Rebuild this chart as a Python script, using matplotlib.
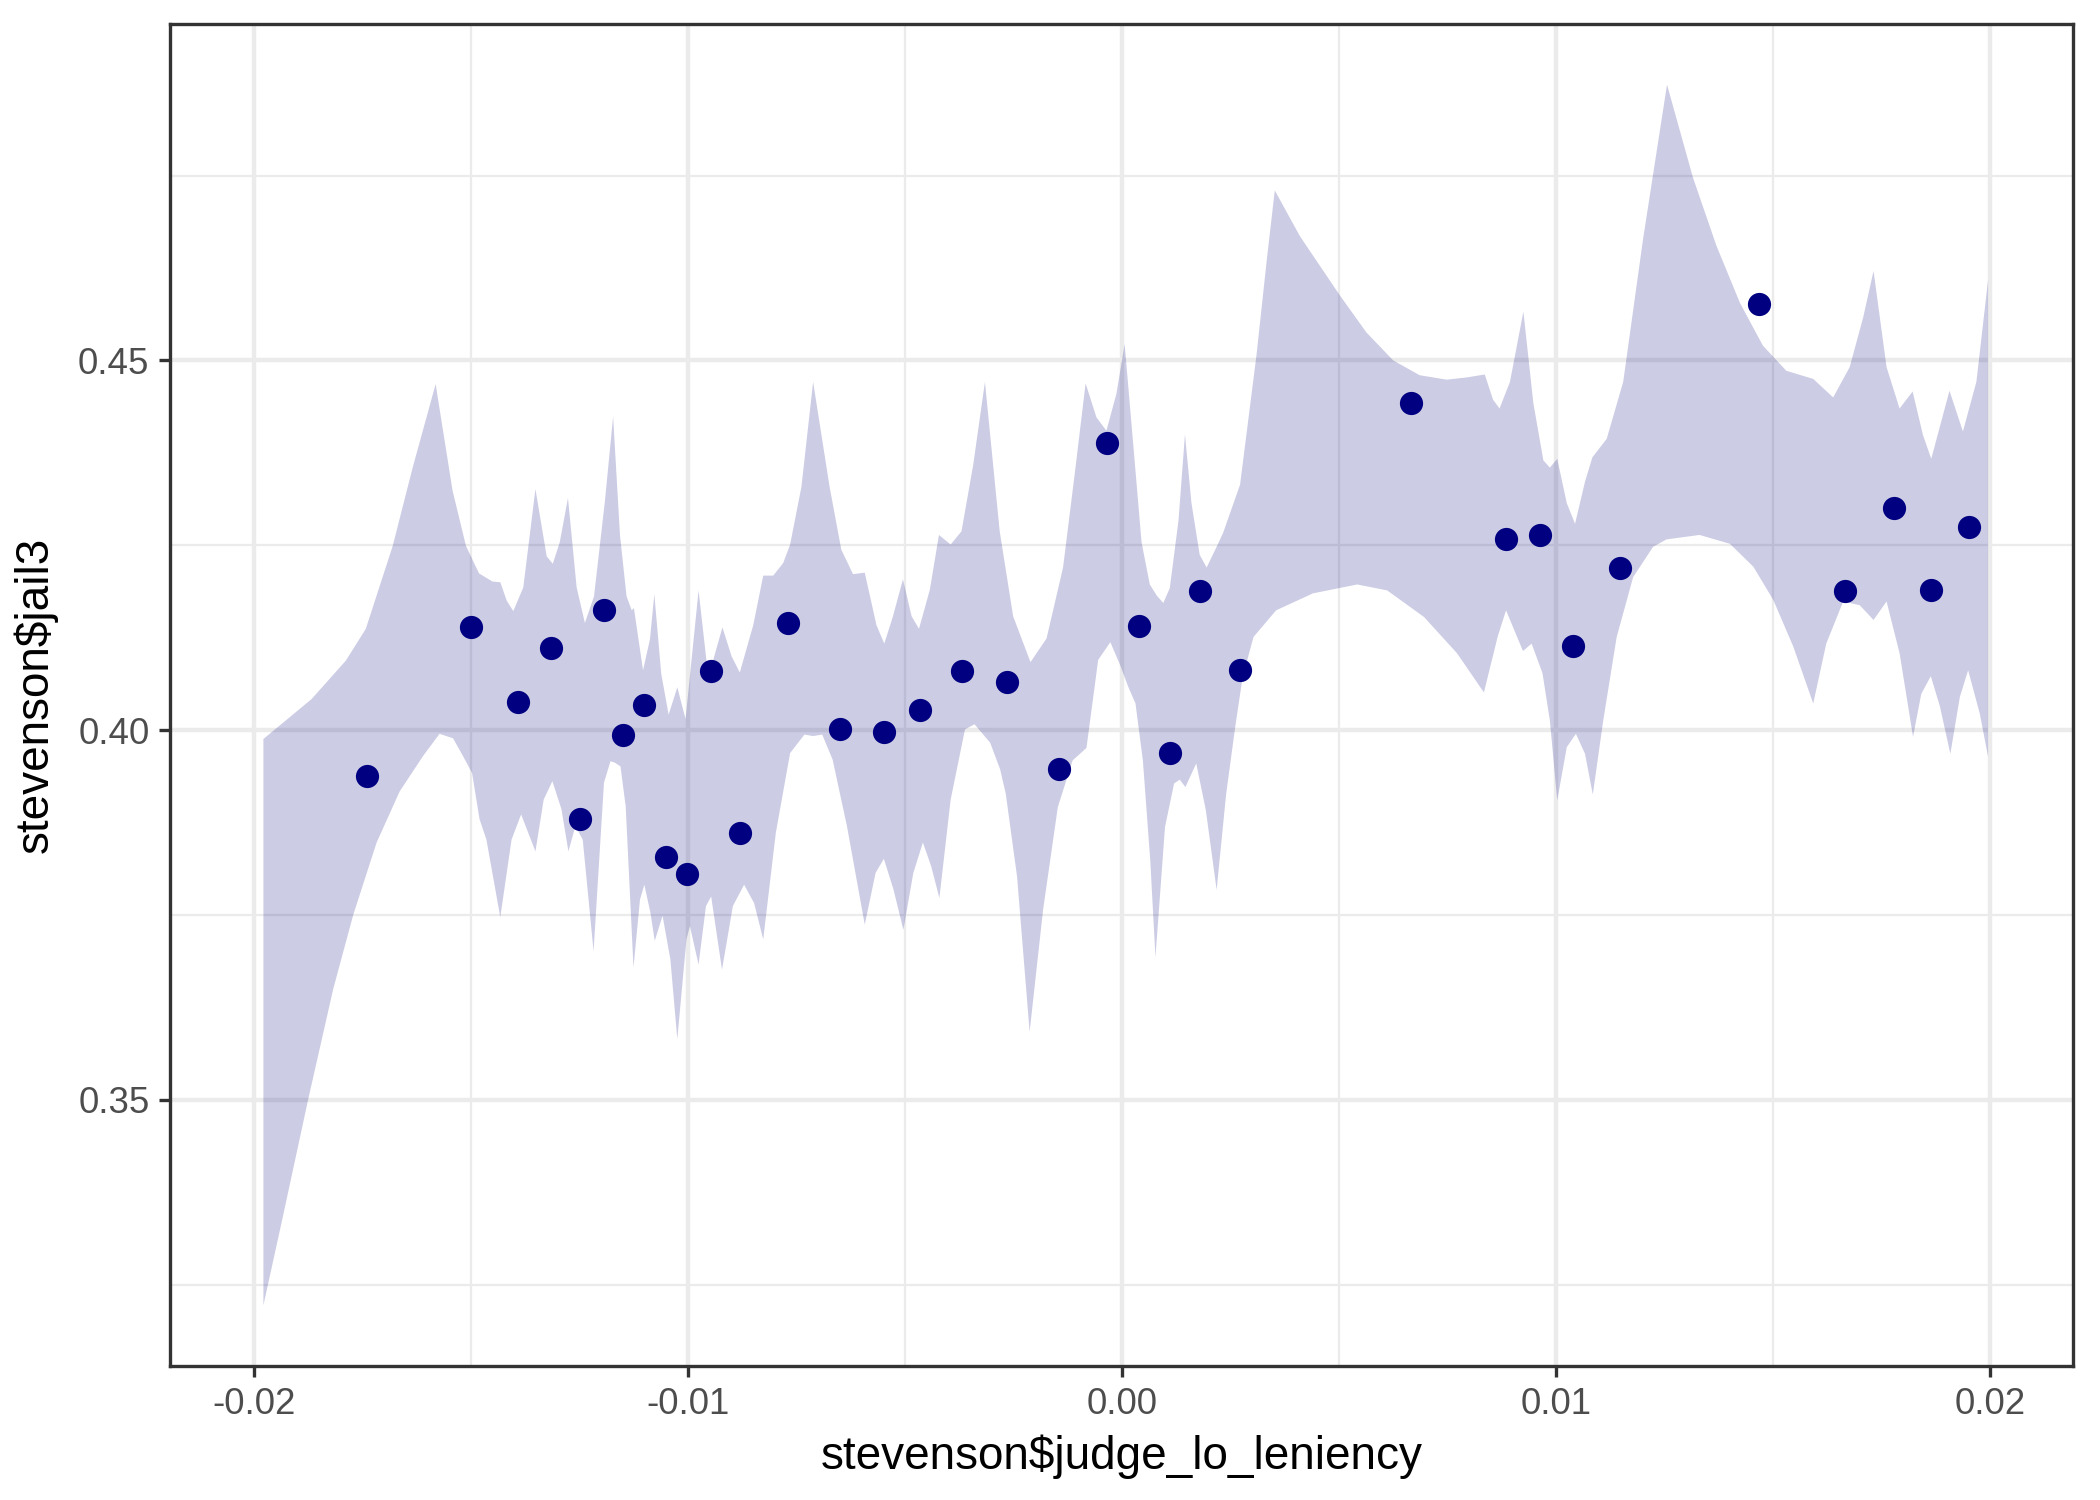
import numpy as np
import matplotlib
matplotlib.use("Agg")
import matplotlib.pyplot as plt
from matplotlib.ticker import FixedLocator

plt.rcParams['font.family'] = ['Liberation Sans', 'DejaVu Sans']

# ---- data: points ----
leniency = [-0.01741, -0.0150, -0.01392, -0.01315, -0.0125, -0.01194, -0.01151,
            -0.01102, -0.01052, -0.01003, -0.00948, -0.0088, -0.00769, -0.00651,
            -0.00549, -0.00466, -0.0037, -0.00265, -0.00145, -0.00034, 0.0004,
            0.00111, 0.00179, 0.00272, 0.00667, 0.00886, 0.00963, 0.0104, 0.01148,
            0.01469, 0.01667, 0.01778, 0.01864, 0.01951]
jail3 = [0.3938, 0.4139, 0.4038, 0.4111, 0.3880, 0.4163, 0.3993, 0.4034, 0.3828,
         0.3806, 0.4080, 0.3861, 0.4145, 0.4002, 0.3998, 0.4027, 0.4080, 0.4065,
         0.3947, 0.4389, 0.4141, 0.3969, 0.4188, 0.4082, 0.4442, 0.4259, 0.4264,
         0.4114, 0.4219, 0.4576, 0.4188, 0.4301, 0.4190, 0.4275]

# ---- data: confidence band, upper edge ----
band_upper_x = [-0.01979, -0.01868, -0.01789, -0.01743, -0.01681, -0.01635, -0.01582,
                -0.01543, -0.01512, -0.01482, -0.01451, -0.01433, -0.01418, -0.01403,
                -0.01380, -0.01352, -0.01326, -0.01312, -0.01296, -0.01277, -0.01257,
                -0.01238, -0.01217, -0.01192, -0.01173, -0.01157, -0.01142, -0.01130,
                -0.01125, -0.01104, -0.01088, -0.01078, -0.01062, -0.01045, -0.01025,
                -0.01006, -0.00976, -0.00958, -0.00950, -0.00921, -0.00900, -0.00881,
                -0.00850, -0.00827, -0.00804, -0.00781, -0.00765, -0.00739, -0.00712,
                -0.00693, -0.00674, -0.00647, -0.00620, -0.00593, -0.00566, -0.00548,
                -0.00528, -0.00505, -0.00485, -0.00468, -0.00443, -0.00422, -0.00395,
                -0.00370, -0.00343, -0.00316, -0.00282, -0.00251, -0.00211, -0.00174,
                -0.00136, -0.00109, -0.00084, -0.00059, -0.00036, -0.00013, 0.00006,
                0.00026, 0.00045, 0.00064, 0.00080, 0.00095, 0.00110, 0.00130, 0.00145,
                0.00160, 0.00179, 0.00195, 0.00218, 0.00233, 0.00272, 0.00310, 0.00333,
                0.00352, 0.00410, 0.00502, 0.00563, 0.00625, 0.00686, 0.00748, 0.00794,
                0.00836, 0.00855, 0.00870, 0.00894, 0.00925, 0.00948, 0.00971, 0.00986,
                0.01003, 0.01025, 0.01044, 0.01067, 0.01084, 0.01117, 0.01155, 0.01201,
                0.01256, 0.01316, 0.01370, 0.01424, 0.01477, 0.01531, 0.01593, 0.01639,
                0.01677, 0.01708, 0.01732, 0.01762, 0.01792, 0.01822, 0.01846, 0.01865,
                0.01907, 0.01938, 0.01969, 0.01996]
band_upper = [0.3988, 0.4042, 0.4094, 0.4137, 0.4249, 0.4355, 0.4468,
              0.4324, 0.4249, 0.4212, 0.4201, 0.4200, 0.4175, 0.4161,
              0.4193, 0.4326, 0.4235, 0.4225, 0.4254, 0.4314, 0.4193,
              0.4145, 0.4181, 0.4309, 0.4424, 0.4263, 0.4181, 0.4162,
              0.4165, 0.4081, 0.4123, 0.4184, 0.4076, 0.4021, 0.4058,
              0.4015, 0.4189, 0.4095, 0.4079, 0.4139, 0.4100, 0.4078,
              0.4142, 0.4209, 0.4209, 0.4226, 0.4251, 0.4329, 0.4471,
              0.4400, 0.4329, 0.4244, 0.4211, 0.4213, 0.4142, 0.4117,
              0.4154, 0.4204, 0.4154, 0.4137, 0.4190, 0.4264, 0.4251,
              0.4269, 0.4359, 0.4471, 0.4269, 0.4154, 0.4092, 0.4124,
              0.4220, 0.4347, 0.4469, 0.4423, 0.4405, 0.4455, 0.4522,
              0.4385, 0.4254, 0.4197, 0.4182, 0.4172, 0.4192, 0.4283, 0.4400,
              0.4307, 0.4237, 0.4220, 0.4248, 0.4267, 0.4332, 0.4508, 0.4633,
              0.4730, 0.4668, 0.4588, 0.4538, 0.4500, 0.4480, 0.4474, 0.4477,
              0.4481, 0.4447, 0.4435, 0.4471, 0.4566, 0.4442, 0.4365, 0.4355,
              0.4367, 0.4307, 0.4279, 0.4336, 0.4369, 0.4394, 0.4471, 0.4665,
              0.4873, 0.4747, 0.4655, 0.4578, 0.4520, 0.4486, 0.4475, 0.4450,
              0.4491, 0.4558, 0.4621, 0.4491, 0.4435, 0.4458, 0.4399, 0.4367,
              0.4459, 0.4404, 0.4471, 0.4609]

# ---- data: confidence band, lower edge ----
band_lower_x = [-0.01979, -0.01933, -0.01876, -0.01818, -0.01772, -0.01718, -0.01665,
                -0.01611, -0.01573, -0.01542, -0.01519, -0.01498, -0.01481, -0.01465,
                -0.01433, -0.01407, -0.01385, -0.01352, -0.01333, -0.01313, -0.01292,
                -0.01276, -0.01260, -0.01243, -0.01218, -0.01194, -0.01179, -0.01169,
                -0.01156, -0.01144, -0.01126, -0.01111, -0.01101, -0.01087, -0.01077,
                -0.01059, -0.01041, -0.01025, -0.01004, -0.00996, -0.00976, -0.00959,
                -0.00947, -0.00922, -0.00897, -0.00871, -0.00848, -0.00827, -0.00798,
                -0.00765, -0.00732, -0.00712, -0.00691, -0.00667, -0.00634, -0.00593,
                -0.00568, -0.00549, -0.00527, -0.00504, -0.00481, -0.00459, -0.00440,
                -0.00421, -0.00395, -0.00362, -0.00340, -0.00304, -0.00281, -0.00268,
                -0.00242, -0.00213, -0.00182, -0.00148, -0.00114, -0.00082, -0.00055,
                -0.00027, -0.00003, 0.00014, 0.00031, 0.00048, 0.00065, 0.00077,
                0.00099, 0.00120, 0.00133, 0.00146, 0.00171, 0.00193, 0.00218, 0.00240,
                0.00261, 0.00278, 0.00303, 0.00355, 0.00440, 0.00542, 0.00611, 0.00696,
                0.00772, 0.00834, 0.00866, 0.00885, 0.00924, 0.00944, 0.00969, 0.00986,
                0.01003, 0.01025, 0.01046, 0.01067, 0.01085, 0.01109, 0.01140, 0.01178,
                0.01224, 0.01255, 0.01331, 0.01401, 0.01455, 0.01501, 0.01547, 0.01593,
                0.01623, 0.01662, 0.01700, 0.01732, 0.01762, 0.01792, 0.01823, 0.01842,
                0.01864, 0.01885, 0.01909, 0.01931, 0.01950, 0.01977, 0.01996]
band_lower = [0.3222, 0.3345, 0.3500, 0.3650, 0.3750, 0.3848, 0.3917,
              0.3965, 0.3995, 0.3989, 0.3965, 0.3942, 0.3880, 0.3852,
              0.3747, 0.3852, 0.3886, 0.3836, 0.3906, 0.3931, 0.3893,
              0.3836, 0.3870, 0.3852, 0.3701, 0.3929, 0.3958, 0.3956,
              0.3951, 0.3897, 0.3679, 0.3771, 0.3791, 0.3753, 0.3715,
              0.3749, 0.3690, 0.3582, 0.3717, 0.3735, 0.3683, 0.3762,
              0.3775, 0.3676, 0.3762, 0.3791, 0.3766, 0.3717, 0.3861,
              0.3969, 0.3994, 0.3992, 0.3994, 0.3960, 0.3870, 0.3737,
              0.3807, 0.3826, 0.3785, 0.3730, 0.3807, 0.3848, 0.3816,
              0.3773, 0.3906, 0.4001, 0.4008, 0.3983, 0.3947, 0.3914,
              0.3802, 0.3592, 0.3757, 0.3896, 0.3959, 0.3976, 0.4095,
              0.4119, 0.4086, 0.4059, 0.4036, 0.3959, 0.3824, 0.3693,
              0.3869, 0.3928, 0.3933, 0.3923, 0.3955, 0.3892, 0.3784, 0.3914,
              0.4005, 0.4072, 0.4126, 0.4162, 0.4185, 0.4197, 0.4189, 0.4153,
              0.4104, 0.4051, 0.4127, 0.4162, 0.4107, 0.4117, 0.4077, 0.4013,
              0.3905, 0.3977, 0.3995, 0.3968, 0.3913, 0.4013, 0.4126, 0.4207,
              0.4248, 0.4258, 0.4264, 0.4252, 0.4221, 0.4176, 0.4113, 0.4036,
              0.4117, 0.4174, 0.4169, 0.4149, 0.4174, 0.4104, 0.3991, 0.4049,
              0.4073, 0.4032, 0.3968, 0.4045, 0.4081, 0.4022, 0.3964]

x_ticks = [-0.02, -0.01, 0.00, 0.01, 0.02]
x_tick_labels = ["-0.02", "-0.01", "0.00", "0.01", "0.02"]
x_minor = [-0.015, -0.005, 0.005, 0.015]
y_ticks = [0.35, 0.40, 0.45]
y_tick_labels = ["0.35", "0.40", "0.45"]
y_minor = [0.325, 0.375, 0.425, 0.475]

NAVY = "#000080"

fig = plt.figure(figsize=(7, 5), dpi=300)
ax = fig.add_axes([0.081, 0.0893, 0.906, 0.8947])

poly_x = np.concatenate([band_upper_x, band_lower_x[::-1]])
poly_y = np.concatenate([band_upper, band_lower[::-1]])
ax.fill(poly_x, poly_y, color=NAVY, alpha=0.2, lw=0, zorder=2)

ax.scatter(leniency, jail3, s=31, color=NAVY, linewidths=0, zorder=3)

ax.set_xlim(-0.02194, 0.02191)
ax.set_ylim(0.3140, 0.4955)

ax.xaxis.set_major_locator(FixedLocator(x_ticks))
ax.xaxis.set_minor_locator(FixedLocator(x_minor))
ax.yaxis.set_major_locator(FixedLocator(y_ticks))
ax.yaxis.set_minor_locator(FixedLocator(y_minor))
ax.set_xticklabels(x_tick_labels)
ax.set_yticklabels(y_tick_labels)

ax.grid(which='major', color='#EBEBEB', linewidth=1.07, zorder=0)
ax.grid(which='minor', color='#EBEBEB', linewidth=0.53, zorder=0)
ax.set_axisbelow(True)

for sp in ax.spines.values():
    sp.set_color('#333333')
    sp.set_linewidth(0.8)

ax.tick_params(which='major', length=2.75, width=0.8, color='#333333',
               labelsize=8.8, labelcolor='#4D4D4D', pad=2.2)
ax.tick_params(which='minor', length=0)

ax.set_xlabel("stevenson$judge_lo_leniency", fontsize=11, color='black', labelpad=3)
ax.set_ylabel("stevenson$jail3", fontsize=11, color='black', labelpad=5)

fig.savefig("out.png", dpi=300, facecolor='white')
